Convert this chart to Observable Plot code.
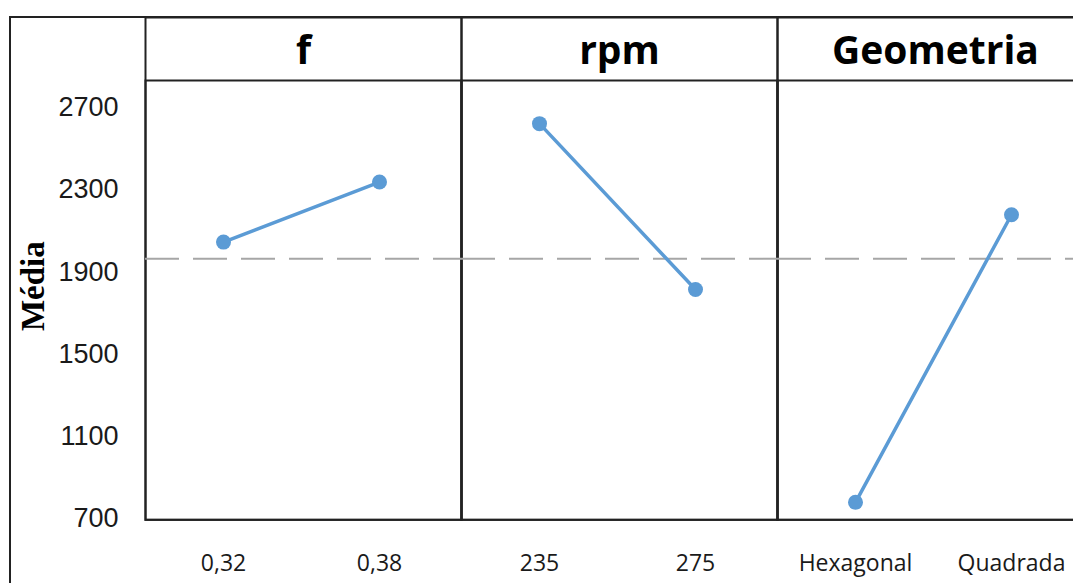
<!DOCTYPE html>
<html>
<head>
<meta charset="utf-8">
<script src="https://cdn.jsdelivr.net/npm/d3@7"></script>
<script src="https://cdn.jsdelivr.net/npm/@observablehq/plot@0.6"></script>
<style>
  html, body { margin: 0; padding: 0; background: #fff; overflow: hidden; }
  #wrap { position: relative; width: 1073px; height: 583px; overflow: hidden; }
  #outer { position: absolute; left: 9px; top: 16px; width: 1200px; height: 700px;
           border-left: 2px solid #222; border-top: 2px solid #222; box-sizing: border-box; }
  #chart { position: absolute; left: 0; top: 0; width: 1110px; }
  #chart svg { max-width: none !important; }
</style>
</head>
<body>
<div id="wrap"><div id="outer"></div><div id="chart"></div></div>
<script>
const factors = ["f", "rpm", "Geometria"];
const levels = [["0,32", "0,38"], ["235", "275"], ["Hexagonal", "Quadrada"]];
const means = [[2045, 2337], [2621, 1814], [779, 2178]];
const grandMean = 1964;
const yTicks = [700, 1100, 1500, 1900, 2300, 2700];

const data = [];
factors.forEach((f, i) => levels[i].forEach((lv, j) => data.push({factor: f, idx: j, level: lv, mean: means[i][j]})));

const blue = "#5b9bd5";
const ink = "#1a1a1a";

const chart = Plot.plot({
  width: 1110,
  height: 600,
  marginLeft: 144,
  marginRight: 16.5,
  marginTop: 80,
  marginBottom: 80.7,
  style: {background: "transparent", color: ink, maxWidth: "none"},
  fx: {domain: factors, padding: 0, axis: null},
  x: {type: "point", domain: [0, 1], padding: 0.5, insetRight: 4, axis: null},
  y: {domain: [694, 2831], axis: null},
  marks: [
    Plot.frame({stroke: "#222", strokeWidth: 2, insetTop: -63}),
    Plot.frame({stroke: "#222", strokeWidth: 2}),
    Plot.ruleY([grandMean], {stroke: "#a6a6a6", strokeWidth: 2, strokeDasharray: "34,14"}),
    Plot.line(data, {fx: "factor", x: "idx", y: "mean", stroke: blue, strokeWidth: 3.5}),
    Plot.dot(data, {fx: "factor", x: "idx", y: "mean", r: 7.5, fill: blue, stroke: null}),
    Plot.text(data, {fx: "factor", x: "idx", text: "level", frameAnchor: "bottom", dy: 44,
      lineAnchor: "middle", fontFamily: "'Open Sans', sans-serif", fontSize: 23, fill: ink}),
    Plot.text(factors, {fx: d => d, text: d => d, frameAnchor: "top", lineAnchor: "bottom", dy: -17,
      fontFamily: "'Open Sans', sans-serif", fontWeight: "bold", fontSize: 39, fill: "#000"}),
    Plot.axisY({ticks: yTicks, tickFormat: d => String(d), tickSize: 0, tickPadding: 27, label: null, anchor: "left",
      fontFamily: "'Liberation Sans', Arial, sans-serif", fontSize: 27, fill: ink}),
    Plot.text(["Média"], {fx: () => "f", text: d => d, frameAnchor: "left", textAnchor: "middle", lineAnchor: "middle",
      dx: -112, dy: -14, rotate: -90,
      fontFamily: "'Liberation Serif', 'Times New Roman', serif", fontWeight: "bold", fontSize: 33, fill: "#000"})
  ]
});
document.getElementById("chart").appendChild(chart);
</script>
</body>
</html>
